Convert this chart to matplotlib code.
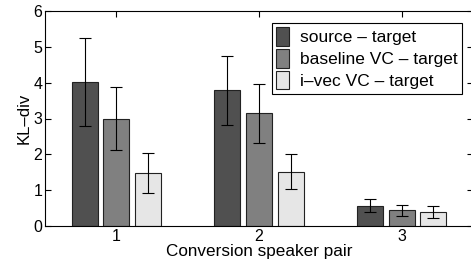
import matplotlib
matplotlib.use("Agg")
import matplotlib.pyplot as plt
import numpy as np

plt.rcParams['font.family'] = ['Liberation Sans', 'DejaVu Sans']

# Data
pairs = ["1", "2", "3"]
series = ["source \u2013 target", "baseline VC \u2013 target", "i\u2013vec VC \u2013 target"]
means = [
    [4.01, 3.79, 0.56],   # source - target
    [3.00, 3.15, 0.44],   # baseline VC - target
    [1.48, 1.52, 0.39],   # i-vec VC - target
]
errs = [
    [1.23, 0.96, 0.18],
    [0.89, 0.82, 0.15],
    [0.55, 0.50, 0.16],
]
colors = ["#505050", "#808080", "#e6e6e6"]

fig = plt.figure(figsize=(4.71, 2.61), dpi=100)
ax = fig.add_axes([45/471, 1 - 226/261, 428/471, 215/261])

x = np.arange(1, len(pairs) + 1)
width = 0.18
step = 0.222
for i in range(len(series)):
    ax.bar(x + (i - 1) * step, means[i], width, color=colors[i],
           edgecolor="#222222", linewidth=0.8, label=series[i], zorder=2)
    ax.errorbar(x + (i - 1) * step, means[i], yerr=errs[i], fmt="none",
                ecolor="black", elinewidth=0.8, capsize=4, capthick=0.8, zorder=3)

ax.set_xlim(0.5, 3.5)
ax.set_ylim(0, 6)
ax.set_xticks(x)
ax.set_xticklabels(pairs)
ax.set_yticks(range(0, 7))
ax.tick_params(direction="in", length=4, width=0.8, top=True, right=True,
               labelsize=11.5, pad=2)
for s in ax.spines.values():
    s.set_linewidth(0.8)

ax.set_ylabel("KL\u2013div", fontsize=12, labelpad=1)
ax.set_xlabel("Conversion speaker pair", fontsize=12.3, labelpad=0)

leg = ax.legend(loc="upper left", bbox_to_anchor=((272 - 45) / 428, (226 - 23) / 215),
                fontsize=12.5, fancybox=False, framealpha=1, edgecolor="black",
                handlelength=0.75, handleheight=1.25, handletextpad=0.6,
                labelspacing=0.2, borderpad=0.25, borderaxespad=0)
leg.get_frame().set_linewidth(0.8)

plt.savefig("out.png", dpi=100)
